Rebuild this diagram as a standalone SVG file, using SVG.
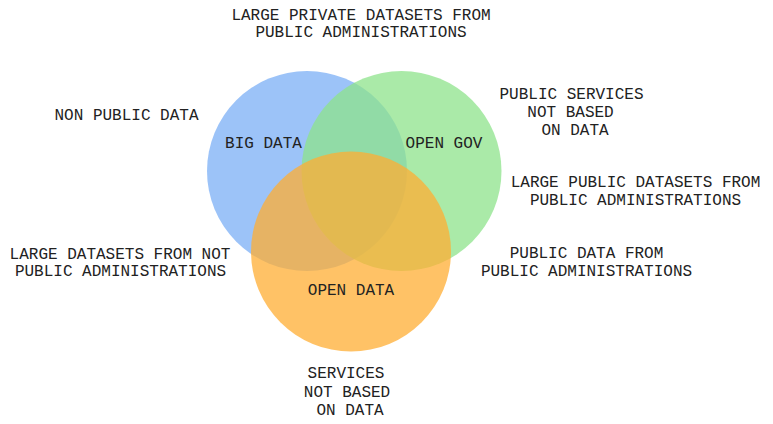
<svg xmlns="http://www.w3.org/2000/svg" width="773" height="424" viewBox="0 0 773 424">
<style>
text{font-family:"Liberation Mono","DejaVu Sans Mono",monospace;font-size:16px;fill:#222;text-anchor:middle}
.c{fill-opacity:0.75}
</style>
<rect width="773" height="424" fill="#fff"/>
<g id="big-data"><circle class="c" cx="307" cy="171" r="100" fill="#7bafF6"/></g>
<g id="open-gov"><circle class="c" cx="401.5" cy="171" r="100" fill="#8ee38b"/></g>
<g id="open-data"><circle class="c" cx="351" cy="251.5" r="100" fill="#ffae33"/></g>
<g id="labels-sets">
<text x="263.5" y="148">BIG DATA</text>
<text x="444" y="148">OPEN GOV</text>
<text x="351" y="295">OPEN DATA</text>
</g>
<g id="label-top">
<text x="361" y="19.5">LARGE PRIVATE DATASETS FROM</text>
<text x="361" y="37">PUBLIC ADMINISTRATIONS</text>
</g>
<g id="label-non-public">
<text x="126.5" y="119.5">NON PUBLIC DATA</text>
</g>
<g id="label-public-services">
<text x="571.5" y="98.5">PUBLIC SERVICES</text>
<text x="570.5" y="116.5">NOT BASED</text>
<text x="575" y="134.5">ON DATA</text>
</g>
<g id="label-large-public">
<text x="635.5" y="187">LARGE PUBLIC DATASETS FROM</text>
<text x="635.5" y="205">PUBLIC ADMINISTRATIONS</text>
</g>
<g id="label-large-not-public">
<text x="120" y="258.5">LARGE DATASETS FROM NOT</text>
<text x="120.5" y="276">PUBLIC ADMINISTRATIONS</text>
</g>
<g id="label-public-data">
<text x="586.5" y="258">PUBLIC DATA FROM</text>
<text x="586.5" y="276">PUBLIC ADMINISTRATIONS</text>
</g>
<g id="label-services">
<text x="346" y="377.5">SERVICES</text>
<text x="347" y="396.5">NOT BASED</text>
<text x="350" y="415">ON DATA</text>
</g>
</svg>
